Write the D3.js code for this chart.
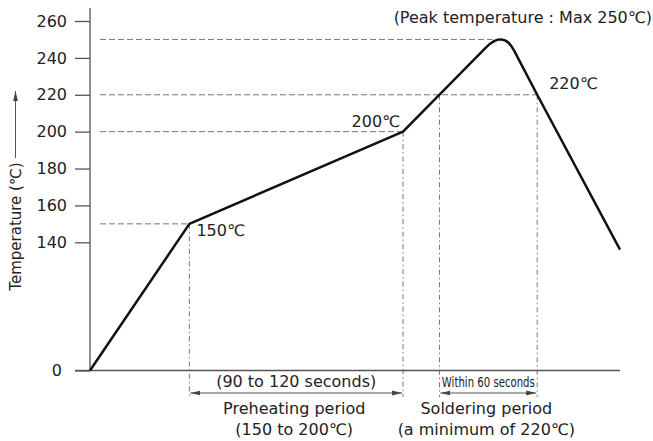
<!DOCTYPE html>
<html>
<head>
<meta charset="utf-8">
<script src="https://cdn.jsdelivr.net/npm/d3@7"></script>
<style>
  html, body { margin: 0; padding: 0; background: #fff; }
  svg { display: block; font-family: "DejaVu Sans", sans-serif; }
</style>
</head>
<body>
<svg id="chart" width="653" height="441"></svg>
<script>
// Reflow soldering temperature profile (time in seconds, temperature in °C)
const profileTime = [0, 60, 189, 239, 241.6, 244, 246.3, 248.5, 250.6, 252.5, 254.3, 256, 270, 320];
const profileTemp = [0, 150, 200, 245.6, 247.7, 249.1, 249.9, 250, 249.5, 248.4, 246.5, 244.1, 220, 132];

const yTicks = [0, 140, 160, 180, 200, 220, 240, 260];

// Guide lines: horizontal from the axis to the curve, vertical from the curve down to the brackets
const hGuideTemp = [150, 200, 220, 250];
const hGuideTime = [60, 189, 270, 243];
const vGuideTime = [60, 189, 211, 270];
const vGuideTemp = [150, 200, 220, 220];

// Period brackets under the axis
const periodStart = [60, 211];
const periodEnd = [189, 270];
const periodNote = ["(90 to 120 seconds)", "Within 60 seconds"];
const periodTitle = ["Preheating period", "Soldering period"];
const periodRange = ["(150 to 200\u2103)", "(a minimum of 220\u2103)"];

const pointLabels = ["150\u2103", "200\u2103", "220\u2103"];
const pointLabelTemp = [150, 200, 220];
const pointLabelTime = [60, 189, 270];

const svg = d3.select("#chart");

// Broken temperature axis: 0 at the bottom, then 140–260 on a finer scale
const x = d3.scaleLinear().domain([0, 320]).range([90, 620]);
const y = d3.scaleLinear().domain([0, 140, 260]).range([370.5, 242.3, 21]);

const axisColor = "#555";
const guideColor = "#777";
const textColor = "#222";

// arrowheads
const defs = svg.append("defs");
function marker(id, orient) {
  defs.append("marker")
    .attr("id", id)
    .attr("viewBox", "0 0 10 6")
    .attr("refX", 10).attr("refY", 3)
    .attr("markerWidth", 10).attr("markerHeight", 6)
    .attr("markerUnits", "userSpaceOnUse")
    .attr("orient", orient)
    .append("path")
    .attr("d", "M0,0.6 L10,3 L0,5.4 Z")
    .attr("fill", "#444");
}
marker("arrowEnd", "auto");
marker("arrowStart", "auto-start-reverse");

// guide lines (behind the curve)
const guides = svg.append("g").attr("stroke", guideColor).attr("stroke-width", 1).attr("fill", "none");
guides.selectAll("line.h")
  .data(hGuideTemp)
  .join("line")
  .attr("class", "h")
  .attr("x1", 100)
  .attr("x2", (d, i) => x(hGuideTime[i]))
  .attr("y1", d => y(d)).attr("y2", d => y(d))
  .attr("stroke-dasharray", "6,3");

guides.selectAll("line.v")
  .data(vGuideTime)
  .join("line")
  .attr("class", "v")
  .attr("x1", d => x(d)).attr("x2", d => x(d))
  .attr("y1", (d, i) => y(vGuideTemp[i]))
  .attr("y2", 397)
  .attr("stroke-dasharray", "5,3,1.5,3");

// axes
const yAxis = d3.axisLeft(y).tickValues(yTicks).tickSize(15).tickPadding(8).tickFormat(d3.format("d"));
const gy = svg.append("g").attr("transform", `translate(${x(0)},0)`).call(yAxis);
gy.select(".domain").remove();
gy.selectAll(".tick line").attr("stroke", axisColor).attr("stroke-width", 1.3);
gy.selectAll(".tick text")
  .attr("fill", textColor)
  .style("font-size", "16px")
  .style("font-family", "'DejaVu Sans', sans-serif")
  .attr("dx", d => d === 0 ? -5 : 0);

svg.append("line")
  .attr("x1", x(0)).attr("x2", x(0))
  .attr("y1", 8).attr("y2", y(0))
  .attr("stroke", axisColor).attr("stroke-width", 1.3);
svg.append("line")
  .attr("x1", x(0) - 15).attr("x2", x.range()[1])
  .attr("y1", y(0)).attr("y2", y(0))
  .attr("stroke", axisColor).attr("stroke-width", 1.3);

// y axis title with upward arrow
svg.append("text")
  .attr("transform", "translate(21,226.5) rotate(-90)")
  .attr("text-anchor", "middle")
  .attr("fill", textColor)
  .style("font-size", "15px")
  .text("Temperature (\u2103)");
svg.append("line")
  .attr("x1", 15.5).attr("x2", 15.5)
  .attr("y1", 158).attr("y2", 91)
  .attr("stroke", "#555").attr("stroke-width", 1)
  .attr("marker-end", "url(#arrowEnd)");

// temperature profile
const line = d3.line()
  .x((d, i) => x(profileTime[i]))
  .y(d => y(d));
svg.append("path")
  .datum(profileTemp)
  .attr("d", line)
  .attr("fill", "none")
  .attr("stroke", "#111")
  .attr("stroke-width", 2.5)
  .attr("stroke-linejoin", "round");

// point labels
const labelPos = [
  { dx: 7, dy: 12.5, anchor: "start" },
  { dx: -3, dy: -5, anchor: "end" },
  { dx: 12, dy: -6, anchor: "start" }
];
svg.selectAll("text.pt")
  .data(pointLabels)
  .join("text")
  .attr("class", "pt")
  .attr("x", (d, i) => x(pointLabelTime[i]) + labelPos[i].dx)
  .attr("y", (d, i) => y(pointLabelTemp[i]) + labelPos[i].dy)
  .attr("text-anchor", (d, i) => labelPos[i].anchor)
  .attr("fill", textColor)
  .style("font-size", "16px")
  .text(d => d);

svg.append("text")
  .attr("x", 652).attr("y", 23)
  .attr("text-anchor", "end")
  .attr("fill", textColor)
  .style("font-size", "16px")
  .text("(Peak temperature : Max 250\u2103)");

// period brackets
const bracketY = 393;
svg.selectAll("line.bracket")
  .data(periodStart)
  .join("line")
  .attr("class", "bracket")
  .attr("x1", d => x(d) + 1)
  .attr("x2", (d, i) => x(periodEnd[i]) - 1)
  .attr("y1", bracketY).attr("y2", bracketY)
  .attr("stroke", "#555").attr("stroke-width", 1)
  .attr("marker-start", "url(#arrowStart)")
  .attr("marker-end", "url(#arrowEnd)");

const mid = (d, i) => (x(d) + x(periodEnd[i])) / 2;

svg.selectAll("text.note")
  .data(periodStart)
  .join("text")
  .attr("class", "note")
  .attr("x", mid)
  .attr("y", 387)
  .attr("text-anchor", "middle")
  .attr("fill", textColor)
  .style("font-size", (d, i) => i === 0 ? "16px" : "14px")
  .each(function (d, i) {
    if (i === 1) {
      d3.select(this)
        .attr("textLength", 93)
        .attr("lengthAdjust", "spacingAndGlyphs");
    }
  })
  .text((d, i) => periodNote[i]);

svg.selectAll("text.title")
  .data(periodStart)
  .join("text")
  .attr("class", "title")
  .attr("x", (d, i) => mid(d, i) - 2)
  .attr("y", 414)
  .attr("text-anchor", "middle")
  .attr("fill", textColor)
  .style("font-size", "16px")
  .text((d, i) => periodTitle[i]);

svg.selectAll("text.range")
  .data(periodStart)
  .join("text")
  .attr("class", "range")
  .attr("x", (d, i) => mid(d, i) - 2)
  .attr("y", 435)
  .attr("text-anchor", "middle")
  .attr("fill", textColor)
  .style("font-size", "16px")
  .text((d, i) => periodRange[i]);
</script>
</body>
</html>
